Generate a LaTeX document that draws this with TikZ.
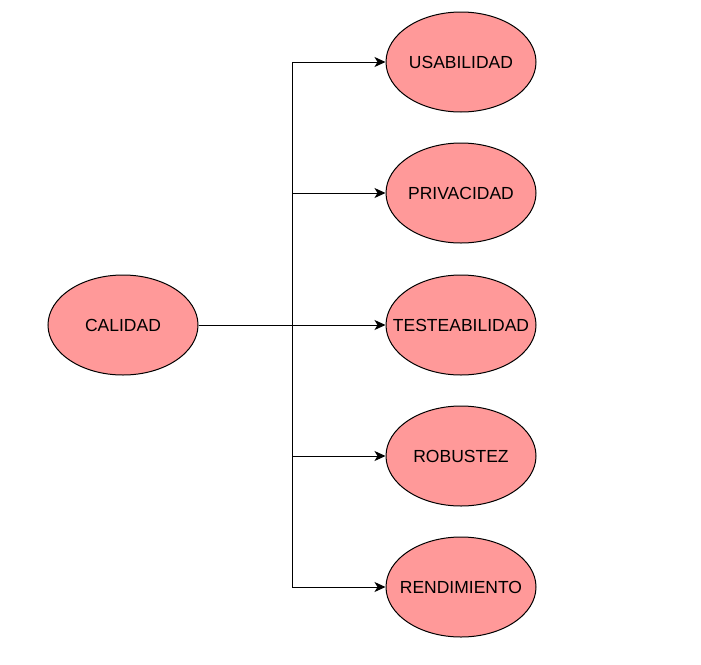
\documentclass[tikz,border=0pt]{standalone}
\usepackage{fontspec}
\setmainfont{Liberation Sans}
\usetikzlibrary{shapes.geometric,arrows.meta,positioning}
\definecolor{rosa}{HTML}{FF9999}
\newcommand{\Attr}[1]{{\fontsize{17.5}{20}\selectfont\makebox[0pt][c]{#1}}}

\begin{document}
\begin{tikzpicture}[x=1pt, y=-1pt, >={Stealth[length=11pt,width=10pt,inset=3pt]},
    elip/.style={ellipse, draw=black, line width=1pt, fill=rosa, minimum width=150pt, minimum height=100pt, inner sep=0pt}]

            \useasboundingbox (0,0) rectangle (701,664);

            \draw(123,325) node[elip] (cal) {\Attr{CALIDAD}};
            \draw(461,62) node[elip] (usa) {\Attr{USABILIDAD}};
            \draw(461,193) node[elip] (pri) {\Attr{PRIVACIDAD}};
            \draw(461,325) node[elip] (tes) {\Attr{TESTEABILIDAD}};
            \draw(461,456) node[elip] (rob) {\Attr{ROBUSTEZ}};
            \draw(461,587) node[elip] (ren) {\Attr{RENDIMIENTO}};

            \draw[->,line width=1pt] (cal.east) -- ++(94,0) |- (usa);
            \draw[->,line width=1pt] (cal.east) -- ++(94,0) |- (pri);
            \draw[->,line width=1pt] (cal.east) -- (tes);
            \draw[->,line width=1pt] (cal.east) -- ++(94,0) |- (rob);
            \draw[->,line width=1pt] (cal.east) -- ++(94,0) |- (ren);

        \end{tikzpicture}
\end{document}
